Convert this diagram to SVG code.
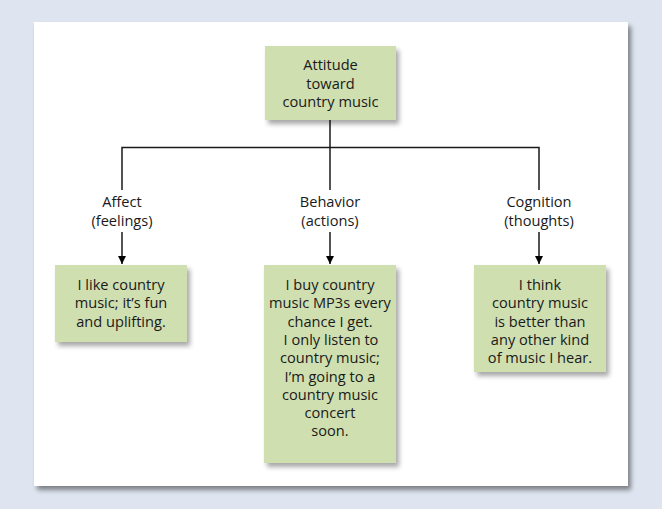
<svg xmlns="http://www.w3.org/2000/svg" width="662" height="509" viewBox="0 0 662 509">
<defs>
<filter id="pshadow" x="-5%" y="-5%" width="115%" height="115%">
<feGaussianBlur in="SourceAlpha" stdDeviation="2.5"/>
<feOffset dx="3" dy="4" result="b"/>
<feComponentTransfer><feFuncA type="linear" slope="0.45"/></feComponentTransfer>
<feMerge><feMergeNode/><feMergeNode in="SourceGraphic"/></feMerge>
</filter>
<filter id="bshadow" x="-10%" y="-10%" width="130%" height="130%">
<feGaussianBlur in="SourceAlpha" stdDeviation="2.5"/>
<feOffset dx="3" dy="4" result="b"/>
<feComponentTransfer><feFuncA type="linear" slope="0.35"/></feComponentTransfer>
<feMerge><feMergeNode/><feMergeNode in="SourceGraphic"/></feMerge>
</filter>
<marker id="arr" viewBox="0 0 10 10" refX="10" refY="5" markerWidth="8" markerHeight="8" markerUnits="userSpaceOnUse" orient="auto">
<path d="M0,0 L10,5 L0,10 z" fill="#000"/>
</marker>
</defs>
<style>
.box{fill:#cfdfb0;filter:url(#bshadow)}
.t{font-family:"Open Sans","Noto Sans","Liberation Sans",sans-serif;font-size:14.6px;fill:#1a1a1a;text-anchor:middle}
.ln{stroke:#1a1a1a;stroke-width:1.5;fill:none}
</style>
<rect width="662" height="509" fill="#dfe5f0"/>
<rect x="34" y="22" width="594" height="464" fill="#ffffff" filter="url(#pshadow)"/>

<g id="connectors">
<path class="ln" d="M330,120 V190"/>
<path class="ln" d="M122,190 V147.5 H539 V190"/>
<path class="ln" d="M122,232 V264" marker-end="url(#arr)"/>
<path class="ln" d="M330,232 V264" marker-end="url(#arr)"/>
<path class="ln" d="M539,232 V264" marker-end="url(#arr)"/>
</g>

<g id="attitude">
<rect class="box" x="265" y="46" width="131" height="74"/>
<text class="t" x="330.5" y="70.3">Attitude</text>
<text class="t" x="330.5" y="88.6">toward</text>
<text class="t" x="330.5" y="106.9">country music</text>
</g>

<g id="affect-label">
<text class="t" x="122" y="207.4">Affect</text>
<text class="t" x="122" y="225.7">(feelings)</text>
</g>
<g id="behavior-label">
<text class="t" x="330" y="207.4">Behavior</text>
<text class="t" x="330" y="225.7">(actions)</text>
</g>
<g id="cognition-label">
<text class="t" x="539" y="207.4">Cognition</text>
<text class="t" x="539" y="225.7">(thoughts)</text>
</g>

<g id="affect">
<rect class="box" x="55" y="265" width="132" height="77"/>
<text class="t" x="121" y="290">I like country</text>
<text class="t" x="121" y="308.3">music; it’s fun</text>
<text class="t" x="121" y="326.6">and uplifting.</text>
</g>

<g id="behavior">
<rect class="box" x="264" y="265" width="132" height="198"/>
<text class="t" x="330" y="290">I buy country</text>
<text class="t" x="330" y="308.3">music MP3s every</text>
<text class="t" x="330" y="326.6">chance I get.</text>
<text class="t" x="331" y="344.9">I only listen to</text>
<text class="t" x="330" y="363.2">country music;</text>
<text class="t" x="330" y="381.5">I’m going to a</text>
<text class="t" x="330" y="399.8">country music</text>
<text class="t" x="330" y="418.1">concert</text>
<text class="t" x="330" y="436.4">soon.</text>
</g>

<g id="cognition">
<rect class="box" x="474" y="265" width="132" height="107"/>
<text class="t" x="540" y="290">I think</text>
<text class="t" x="540" y="308.3">country music</text>
<text class="t" x="540" y="326.6">is better than</text>
<text class="t" x="540" y="344.9">any other kind</text>
<text class="t" x="540" y="363.2">of music I hear.</text>
</g>
</svg>
